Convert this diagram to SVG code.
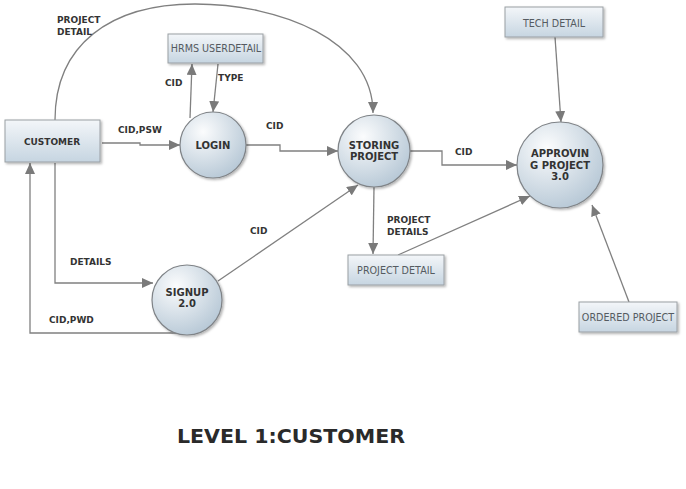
<svg xmlns="http://www.w3.org/2000/svg" width="686" height="489" viewBox="0 0 686 489">
<style>
.bx{fill:url(#gBox);stroke:#9a9fa4;stroke-width:1;filter:url(#sh)}
.ci{fill:url(#gCir);stroke:#7f8387;stroke-width:1.2;filter:url(#sh)}
.bt{font-family:"DejaVu Sans",Verdana,sans-serif;font-size:9.6px;fill:#555b61;text-anchor:middle}
.ct{font-family:"DejaVu Sans",Verdana,sans-serif;font-size:10px;font-weight:bold;fill:#333;text-anchor:middle}
.lb{font-family:"DejaVu Sans",Verdana,sans-serif;font-size:9px;font-weight:bold;fill:#333}
.cn{fill:none;stroke:#808080;stroke-width:1.3;marker-end:url(#ar)}
.ti{font-family:"DejaVu Sans",Verdana,sans-serif;font-size:20px;font-weight:bold;fill:#2a2a2a}
</style>
<defs>
<linearGradient id="gBox" x1="0" y1="0" x2="0" y2="1">
<stop offset="0" stop-color="#f3f6f9"/><stop offset="1" stop-color="#c6d5e1"/>
</linearGradient>
<radialGradient id="gCir" cx="0.35" cy="0.3" r="0.75">
<stop offset="0" stop-color="#fbfcfd"/><stop offset="1" stop-color="#b7c8d6"/>
</radialGradient>
<filter id="sh" x="-20%" y="-20%" width="140%" height="140%">
<feDropShadow dx="1.5" dy="1.5" stdDeviation="1" flood-color="#000" flood-opacity="0.3"/>
</filter>
<marker id="ar" markerUnits="userSpaceOnUse" markerWidth="12" markerHeight="10" refX="11" refY="5" orient="auto">
<path d="M0,0 L11,5 L0,10 z" fill="#7a7a7a"/>
</marker>
</defs>

<g id="connectors">
<path class="cn" d="M55,120 C55,45 110,4 195,4 C280,4 373,40 373,113"/>
<path class="cn" d="M102,143 L140,143 L140,145 L180,145"/>
<path class="cn" d="M190,118 L192,64"/>
<path class="cn" d="M218,64 L213,112"/>
<path class="cn" d="M246,145 L280,145 L280,151 L338,151"/>
<path class="cn" d="M410,151 L442,151 L442,165 L517,165"/>
<path class="cn" d="M555,37 L561,122"/>
<path class="cn" d="M55,163 L55,283 L153,283"/>
<path class="cn" d="M187,334 L187,333 L30,333 L30,163"/>
<path class="cn" d="M218,281 L358,185"/>
<path class="cn" d="M374,187 L373,254"/>
<path class="cn" d="M398,255 L530,196"/>
<path class="cn" d="M629,302 L592,205"/>
<text class="lb" x="57" y="23">PROJECT</text>
<text class="lb" x="57" y="35">DETAIL</text>
<text class="lb" x="118" y="133">CID,PSW</text>
<text class="lb" x="165" y="86">CID</text>
<text class="lb" x="218" y="81">TYPE</text>
<text class="lb" x="266" y="129">CID</text>
<text class="lb" x="455" y="155">CID</text>
<text class="lb" x="70" y="265">DETAILS</text>
<text class="lb" x="49" y="323">CID,PWD</text>
<text class="lb" x="250" y="234">CID</text>
<text class="lb" x="387" y="223">PROJECT</text>
<text class="lb" x="387" y="235">DETAILS</text>
</g>

<g id="customer">
<rect class="bx" x="5" y="120" width="95" height="42"/>
<text class="lb" x="52" y="145" text-anchor="middle">CUSTOMER</text>
</g>
<g id="hrms-userdetail">
<rect class="bx" x="168" y="34" width="95" height="29"/>
<text class="bt" x="216" y="52">HRMS USERDETAIL</text>
</g>
<g id="login">
<circle class="ci" cx="213" cy="145" r="33"/>
<text class="ct" x="213" y="149">LOGIN</text>
</g>
<g id="storing-project">
<circle class="ci" cx="374" cy="151" r="36"/>
<text class="ct" x="374" y="149">STORING</text>
<text class="ct" x="374" y="160">PROJECT</text>
</g>
<g id="approving-project">
<circle class="ci" cx="560" cy="165" r="43"/>
<text class="ct" x="560" y="157">APPROVIN</text>
<text class="ct" x="560" y="169">G PROJECT</text>
<text class="ct" x="560" y="180">3.0</text>
</g>
<g id="tech-detail">
<rect class="bx" x="505" y="7" width="98" height="30"/>
<text class="bt" x="554" y="27">TECH DETAIL</text>
</g>
<g id="signup">
<circle class="ci" cx="187" cy="300" r="35"/>
<text class="ct" x="187" y="296">SIGNUP</text>
<text class="ct" x="187" y="307">2.0</text>
</g>
<g id="project-detail">
<rect class="bx" x="348" y="255" width="96" height="30"/>
<text class="bt" x="396" y="274">PROJECT DETAIL</text>
</g>
<g id="ordered-project">
<rect class="bx" x="579" y="302" width="98" height="30"/>
<text class="bt" x="628" y="321">ORDERED PROJECT</text>
</g>

<text class="ti" x="177" y="443" textLength="228" lengthAdjust="spacingAndGlyphs">LEVEL 1:CUSTOMER</text>
</svg>
